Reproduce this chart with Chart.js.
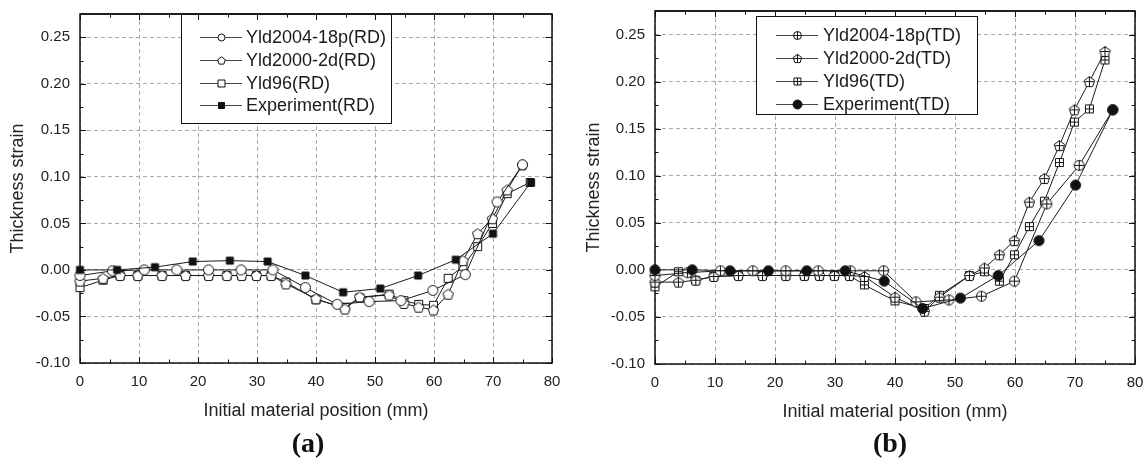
<!DOCTYPE html>
<html>
<head>
<meta charset="utf-8">
<script src="https://cdn.jsdelivr.net/npm/chart.js@4.4.0/dist/chart.umd.min.js"></script>
<style>
  body { margin: 0; background: #fff; width: 1146px; height: 465px; overflow: hidden; position: relative; }
  .panel { position: absolute; top: 0; width: 573px; height: 465px; }
  .cap { position: absolute; top: 425px; width: 100px; text-align: center; font: bold 28px "Liberation Serif", "Times New Roman", serif; color: #111; line-height: 36px; }
</style>
</head>
<body>
<div class="panel" style="left:0"><canvas id="chart-a" width="573" height="465"></canvas></div>
<div class="panel" style="left:573px"><canvas id="chart-b" width="573" height="465"></canvas></div>
<div class="cap" style="left:258px">(a)</div>
<div class="cap" style="left:840px">(b)</div>
<script>
const fontFamily = '"Liberation Sans", Arial, sans-serif'
Chart.defaults.font.family = fontFamily

const xTicks = [0, 10, 20, 30, 40, 50, 60, 70, 80]
const yTicks = [-0.10, -0.05, 0.00, 0.05, 0.10, 0.15, 0.20, 0.25]

// (a) rolling direction
const aYld2004X = [0, 5.5, 10.9, 16.4, 21.8, 27.3, 32.7, 38.2, 43.6, 49.0, 54.4, 59.8, 65.3, 70.7, 75.0]
const aYld2004Y = [-0.006, -0.001, 0.000, 0.000, 0.000, 0.000, 0.000, -0.019, -0.037, -0.034, -0.033, -0.022, -0.005, 0.073, 0.113]
const aYld2000X = [0, 3.9, 6.8, 9.8, 13.9, 17.9, 21.8, 24.9, 27.4, 29.9, 32.4, 34.9, 40.0, 44.9, 47.4, 52.4, 54.9, 57.4, 59.9, 62.4, 64.9, 67.4, 69.9, 72.4, 75.0]
const aYld2000Y = [-0.012, -0.009, -0.006, -0.006, -0.006, -0.006, -0.006, -0.006, -0.006, -0.006, -0.006, -0.015, -0.031, -0.042, -0.029, -0.027, -0.036, -0.040, -0.043, -0.026, 0.010, 0.039, 0.055, 0.086, 0.113]
const aYld96X = [0, 3.9, 6.8, 9.8, 13.9, 17.9, 21.8, 24.9, 27.4, 29.9, 32.4, 34.9, 40.0, 44.9, 47.4, 52.4, 54.9, 57.4, 59.9, 62.4, 64.9, 67.4, 69.9, 72.4, 76.3]
const aYld96Y = [-0.019, -0.011, -0.006, -0.006, -0.006, -0.006, -0.006, -0.006, -0.006, -0.006, -0.006, -0.013, -0.032, -0.040, -0.030, -0.026, -0.033, -0.037, -0.038, -0.009, 0.004, 0.025, 0.050, 0.082, 0.094]
const aExpX = [0, 6.3, 12.7, 19.1, 25.4, 31.8, 38.2, 44.6, 50.9, 57.3, 63.7, 70.0, 76.4]
const aExpY = [0.000, 0.000, 0.003, 0.009, 0.010, 0.009, -0.006, -0.024, -0.020, -0.006, 0.011, 0.039, 0.094]

// (b) transverse direction
const bYld2004X = [0, 5.4, 10.9, 16.3, 21.8, 27.2, 32.6, 38.1, 43.5, 49.0, 54.4, 59.9, 65.3, 70.7, 76.3]
const bYld2004Y = [-0.006, -0.003, -0.001, -0.001, -0.001, -0.001, -0.001, -0.001, -0.034, -0.032, -0.028, -0.012, 0.070, 0.111, 0.170]
const bYld2000X = [0, 3.9, 6.8, 9.8, 13.9, 17.9, 21.8, 24.9, 27.4, 29.9, 32.4, 34.9, 40.0, 44.9, 47.4, 52.4, 54.9, 57.4, 59.9, 62.4, 64.9, 67.4, 69.9, 72.4, 75.0]
const bYld2000Y = [-0.013, -0.013, -0.011, -0.007, -0.006, -0.006, -0.006, -0.006, -0.006, -0.006, -0.006, -0.007, -0.029, -0.044, -0.029, -0.006, 0.002, 0.016, 0.031, 0.072, 0.097, 0.132, 0.170, 0.200, 0.232]
const bYld96X = [0, 3.9, 6.8, 9.8, 13.9, 17.9, 21.8, 24.9, 27.4, 29.9, 32.4, 34.9, 40.0, 44.9, 47.4, 52.4, 54.9, 57.4, 59.9, 62.4, 64.9, 67.4, 69.9, 72.4, 75.0]
const bYld96Y = [-0.018, -0.002, -0.011, -0.007, -0.006, -0.006, -0.006, -0.006, -0.006, -0.006, -0.006, -0.016, -0.033, -0.041, -0.027, -0.006, -0.002, -0.012, 0.016, 0.046, 0.073, 0.114, 0.157, 0.171, 0.223]
const bExpX = [0, 6.2, 12.5, 18.9, 25.3, 31.7, 38.2, 44.6, 50.9, 57.2, 64.0, 70.1, 76.3]
const bExpY = [0.000, 0.000, -0.001, -0.001, -0.001, -0.001, -0.012, -0.041, -0.030, -0.006, 0.031, 0.090, 0.170]

// small canvas images used as point styles
function marker(shape, r, opts = {}) {
    const size = 2 * Math.ceil(r) + 3
    const c = document.createElement('canvas')
    c.width = c.height = size
    const g = c.getContext('2d')
    const m = size / 2
    g.lineWidth = 1
    g.strokeStyle = '#111'
    g.fillStyle = opts.filled ? '#111' : '#fff'
    g.beginPath()
    if (shape === 'circle') {
        g.arc(m, m, r, 0, Math.PI * 2)
    } else if (shape === 'square') {
        g.rect(m - r, m - r, 2 * r, 2 * r)
    } else if (shape === 'pentagon') {
        for (let i = 0; i < 5; i++) {
            const a = -Math.PI / 2 + i * 2 * Math.PI / 5
            const px = m + r * Math.cos(a), py = m + r * Math.sin(a) + r * 0.1
            i ? g.lineTo(px, py) : g.moveTo(px, py)
        }
        g.closePath()
    }
    g.fill()
    g.stroke()
    if (opts.plus) {
        const k = shape === 'pentagon' ? r * 0.8 : r
        g.beginPath()
        g.moveTo(m - k, m); g.lineTo(m + k, m)
        g.moveTo(m, m - r); g.lineTo(m, m + r)
        g.stroke()
    }
    return c
}

function series(label, xs, ys, point, legendPoint, order) {
    return {
        label,
        data: xs.map((x, i) => ({ x, y: ys[i] })),
        borderColor: '#1a1a1a',
        borderWidth: 1,
        pointStyle: point,
        pointRadius: 5,
        pointHoverRadius: 5,
        tension: 0,
        fill: false,
        clip: false,
        order,
        legendPoint
    }
}

function drawFrame(chart, topOnly) {
    const { ctx, chartArea: a, scales: { x, y } } = chart
    ctx.save()
    ctx.strokeStyle = '#111'
    ctx.lineWidth = 1.5
    if (topOnly) {
        ctx.beginPath(); ctx.moveTo(a.left, a.top); ctx.lineTo(a.right, a.top); ctx.stroke()
    } else {
        ctx.strokeRect(a.left, a.top, a.right - a.left, a.bottom - a.top)
    }
    ctx.lineWidth = 1
    ctx.beginPath()
    const xMinor = xTicks.slice(1).map((v, i) => (v + xTicks[i]) / 2)
    const yMinor = yTicks.slice(1).map((v, i) => (v + yTicks[i]) / 2)
    const xMarks = xTicks.map(v => [v, 6]).concat(xMinor.map(v => [v, 3.5]))
    const yMarks = yTicks.map(v => [v, 6]).concat(yMinor.map(v => [v, 3.5]))
    for (const [v, len] of xMarks) {
        const px = Math.round(x.getPixelForValue(v)) + 0.5
        ctx.moveTo(px, a.top); ctx.lineTo(px, a.top + len)
        if (!topOnly) { ctx.moveTo(px, a.bottom); ctx.lineTo(px, a.bottom - len) }
    }
    if (!topOnly) {
        for (const [v, len] of yMarks) {
            const py = Math.round(y.getPixelForValue(v)) + 0.5
            ctx.moveTo(a.left, py); ctx.lineTo(a.left + len, py)
            ctx.moveTo(a.right, py); ctx.lineTo(a.right - len, py)
        }
    }
    ctx.stroke()
    ctx.restore()
}

function makeChart(id, datasets, layout, legend) {
    const framePlugin = {
        id: 'frame',
        beforeDatasetsDraw(chart) { drawFrame(chart, false) },
        afterDatasetsDraw(chart) {
            const ctx = chart.ctx
            ctx.save()
            ctx.fillStyle = '#fff'
            ctx.fillRect(legend.x, legend.y, legend.w, legend.h)
            ctx.strokeStyle = '#111'
            ctx.lineWidth = 1
            ctx.strokeRect(legend.x + 0.5, legend.y + 0.5, legend.w, legend.h)
            ctx.font = '18px ' + fontFamily
            ctx.textBaseline = 'middle'
            chart.data.datasets.forEach((ds, i) => {
                const cy = Math.round(legend.rows[i]) + 0.5
                ctx.strokeStyle = '#444'
                ctx.beginPath(); ctx.moveTo(legend.line0, cy); ctx.lineTo(legend.line1, cy); ctx.stroke()
                const img = ds.legendPoint
                ctx.drawImage(img, Math.round(legend.mark - img.width / 2), Math.round(cy - img.height / 2))
                ctx.fillStyle = '#1a1a1a'
                ctx.fillText(ds.label, legend.text, cy + 1)
            })
            ctx.restore()
        },
        afterDraw(chart) { drawFrame(chart, true) }
    }

    return new Chart(id, {
        type: 'line',
        data: { datasets },
        plugins: [framePlugin],
        options: {
            responsive: false,
            animation: false,
            events: [],
            layout: { padding: layout.padding },
            plugins: { legend: { display: false }, tooltip: { enabled: false } },
            scales: {
                x: {
                    type: 'linear',
                    min: 0,
                    max: 80,
                    afterBuildTicks: s => { s.ticks = xTicks.map(v => ({ value: v })) },
                    afterFit: s => { s.height = 60; s.paddingLeft = 0; s.paddingRight = 0 },
                    grid: { color: '#a8a8a8', drawTicks: false },
                    border: { display: false, dash: [4, 3] },
                    ticks: { color: '#222', font: { size: 15 }, padding: 10, callback: v => String(v) },
                    title: { display: true, text: 'Initial material position (mm)', color: '#222', font: { size: 18 }, padding: { top: 0, bottom: 1 } }
                },
                y: {
                    type: 'linear',
                    min: -0.10,
                    max: 0.275,
                    afterBuildTicks: s => { s.ticks = yTicks.map(v => ({ value: v })) },
                    afterFit: s => { s.width = layout.yWidth; s.paddingTop = 0; s.paddingBottom = 0 },
                    grid: { color: '#a8a8a8', drawTicks: false },
                    border: { display: false, dash: [4, 3] },
                    ticks: { color: '#222', font: { size: 15 }, padding: 10, callback: v => v.toFixed(2) },
                    title: { display: true, text: 'Thickness strain', color: '#222', font: { size: 18 }, padding: { top: layout.titlePad, bottom: 0 } }
                }
            }
        }
    })
}

makeChart('chart-a', [
    series('Yld2004-18p(RD)', aYld2004X, aYld2004Y, marker('circle', 5), marker('circle', 3.5), 1),
    series('Yld2000-2d(RD)', aYld2000X, aYld2000Y, marker('pentagon', 5.5), marker('pentagon', 4), 2),
    series('Yld96(RD)', aYld96X, aYld96Y, marker('square', 4), marker('square', 3.5), 3),
    series('Experiment(RD)', aExpX, aExpY, marker('square', 3.5, { filled: true }), marker('square', 3, { filled: true }), 0)
], { padding: { left: 0, right: 21, top: 14, bottom: 42 }, yWidth: 80, titlePad: 7 },
   { x: 181, y: 14, w: 210, h: 109, rows: [37, 60, 83, 105], line0: 200, line1: 242, mark: 221, text: 246 })

makeChart('chart-b', [
    series('Yld2004-18p(TD)', bYld2004X, bYld2004Y, marker('circle', 5, { plus: true }), marker('circle', 4, { plus: true }), 1),
    series('Yld2000-2d(TD)', bYld2000X, bYld2000Y, marker('pentagon', 5.5, { plus: true }), marker('pentagon', 4.5, { plus: true }), 2),
    series('Yld96(TD)', bYld96X, bYld96Y, marker('square', 4, { plus: true }), marker('square', 3.5, { plus: true }), 3),
    series('Experiment(TD)', bExpX, bExpY, marker('circle', 5, { filled: true }), marker('circle', 4.5, { filled: true }), 0)
], { padding: { left: 0, right: 11, top: 11, bottom: 41 }, yWidth: 82, titlePad: 10 },
   { x: 183, y: 16, w: 221, h: 98, rows: [35, 58, 81, 104], line0: 203, line1: 245, mark: 224, text: 250 })
</script>
</body>
</html>
